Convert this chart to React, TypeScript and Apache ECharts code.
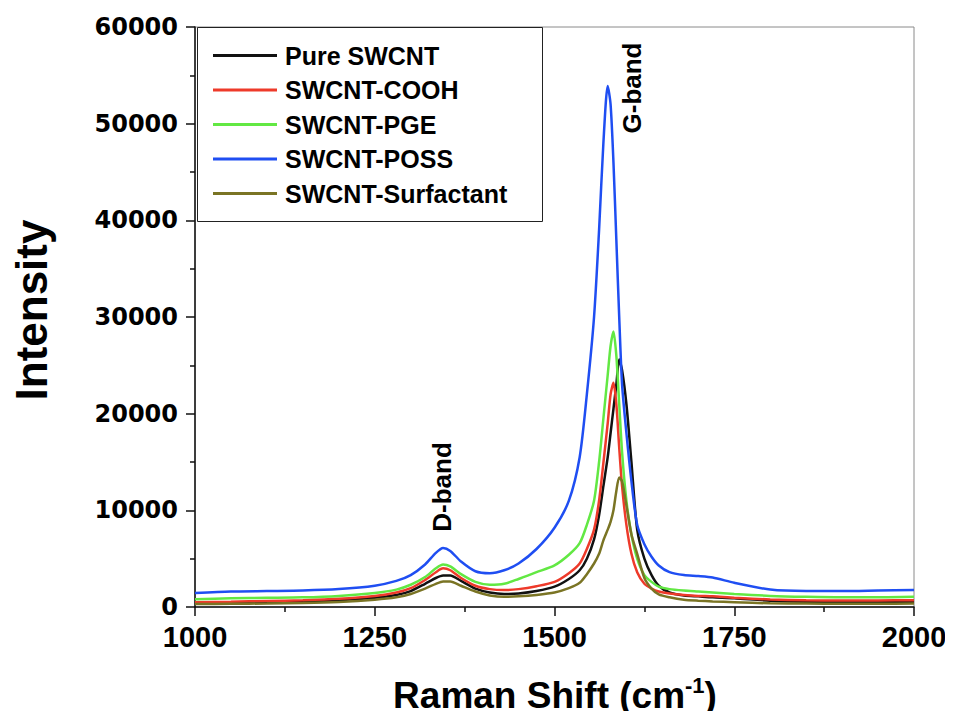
import React, { useEffect, useRef } from "react";
import * as echarts from "echarts";

const wavenumbers = [
  1000, 1050, 1100, 1150, 1200, 1250, 1280, 1300, 1320, 1335, 1345, 1355, 1370, 1390, 1410, 1430,
  1450, 1475, 1500, 1520, 1535, 1545, 1555, 1562, 1568, 1574, 1578, 1582, 1586, 1590, 1594, 1600,
  1607, 1615, 1625, 1635, 1645, 1660, 1680, 1700, 1720, 1750, 1800, 1850, 1900, 1950, 2000,
];

const pureSWCNT = [
  400, 430, 480, 550, 700, 950, 1250, 1650, 2400, 3000, 3250, 3250, 2700, 1900, 1500, 1350,
  1400, 1650, 2100, 2900, 3800, 5000, 7000, 9500, 12500, 15500, 18000, 20500, 23000, 25600, 24500, 21000,
  15000, 8000, 5000, 3300, 2200, 1500, 1200, 1100, 1000, 900, 650, 550, 500, 500, 520,
];

const swcntCOOH = [
  500, 550, 620, 700, 850, 1150, 1500, 1950, 2800, 3600, 4000, 3800, 3000, 2200, 1850, 1750,
  1850, 2150, 2600, 3500, 4500, 6000, 8000, 11000, 14900, 19000, 22000, 23200, 21000, 16500, 12500, 8500,
  5500, 3600, 2400, 1900, 1600, 1400, 1250, 1150, 1100, 950, 780, 700, 680, 680, 700,
];

const swcntPGE = [
  800, 900, 950, 1000, 1150, 1450, 1800, 2300, 3100, 4000, 4400, 4200, 3400, 2600, 2300, 2400,
  2900, 3600, 4300, 5400, 6600, 8500, 11000, 15000, 19500, 24000, 27000, 28500, 26000, 21000, 16000, 11000,
  7500, 5000, 3300, 2600, 2100, 1850, 1700, 1600, 1500, 1350, 1150, 1050, 1000, 1000, 1050,
];

const swcntPOSS = [
  1450, 1600, 1650, 1700, 1850, 2200, 2700, 3300, 4400, 5600, 6100, 5800, 4700, 3700, 3500, 3800,
  4500, 6000, 8200, 11000, 15500, 22000, 30000, 39000, 48000, 53900, 52000, 46000, 38000, 30000, 23000, 18000,
  13000, 8500, 6500, 5200, 4300, 3600, 3300, 3200, 3050, 2500, 1800, 1650, 1650, 1700, 1750,
];

const swcntSurfactant = [
  300, 330, 360, 410, 520, 750, 1000, 1350, 1900, 2400, 2650, 2650, 2200, 1600, 1200, 1050,
  1100, 1250, 1500, 1950, 2500, 3400, 4500, 5500, 6900, 8000, 8800, 10000, 12000, 13400, 13000, 10500,
  7500, 5500, 3000, 1900, 1300, 1000, 750, 650, 580, 500, 380, 350, 330, 330, 350,
];

const seriesNames = ["Pure SWCNT", "SWCNT-COOH", "SWCNT-PGE", "SWCNT-POSS", "SWCNT-Surfactant"];
const seriesColors = ["#111111", "#ee3a2a", "#62e843", "#1f4ef2", "#7a7424"];
const seriesValues = [pureSWCNT, swcntCOOH, swcntPGE, swcntPOSS, swcntSurfactant];

const FONT = "'Liberation Sans', Arial, Helvetica, sans-serif";

export default function App() {
  const ref = useRef<HTMLDivElement>(null);

  useEffect(() => {
    if (!ref.current) return;
    const chart = echarts.init(ref.current, undefined, { renderer: "svg" });

    const series = seriesNames.map((name, i) => ({
      name,
      type: "line",
      data: wavenumbers.map((w, j) => [w, seriesValues[i][j]]),
      showSymbol: false,
      symbol: "none",
      smooth: 0.25,
      lineStyle: { color: seriesColors[i], width: 2.5 },
      itemStyle: { color: seriesColors[i] },
    }));

    chart.setOption({
      animation: false,
      backgroundColor: "#ffffff",
      grid: {
        left: 195,
        right: 39,
        top: 27,
        bottom: 112,
        show: true,
        borderColor: "#8a8a8a",
        borderWidth: 1,
      },
      xAxis: {
        type: "value",
        min: 1000,
        max: 2000,
        interval: 250,
        axisLine: { show: true, lineStyle: { color: "#111", width: 1.5 } },
        axisTick: { show: true, inside: false, length: 9, lineStyle: { color: "#111", width: 1.5 } },
        minorTick: { show: true, splitNumber: 2, length: 5, lineStyle: { color: "#111", width: 1.5 } },
        splitLine: { show: false },
        axisLabel: {
          margin: 15,
          color: "#000",
          fontFamily: FONT,
          fontWeight: "bold",
          fontSize: 29,
          formatter: (v: number) => String(v),
        },
      },
      yAxis: {
        type: "value",
        min: 0,
        max: 60000,
        interval: 10000,
        axisLine: { show: true, lineStyle: { color: "#111", width: 1.5 } },
        axisTick: { show: true, inside: false, length: 9, lineStyle: { color: "#111", width: 1.5 } },
        minorTick: { show: true, splitNumber: 2, length: 5, lineStyle: { color: "#111", width: 1.5 } },
        splitLine: { show: false },
        axisLabel: {
          margin: 17,
          color: "#000",
          fontFamily: "'DejaVu Sans', sans-serif",
          fontWeight: "bold",
          fontSize: 24,
          lineHeight: 22,
          formatter: (v: number) => String(v),
        },
      },
      legend: {
        show: true,
        orient: "vertical",
        left: 197,
        top: 28,
        padding: [15, 16, 15, 16],
        itemGap: 9.5,
        itemWidth: 64,
        itemHeight: 3,
        icon: "rect",
        data: seriesNames,
        textStyle: {
          color: "#000",
          fontFamily: FONT,
          fontWeight: "bold",
          fontSize: 25,
          lineHeight: 25,
          padding: [0, 0, 0, 3],
        },
      },
      graphic: [
        {
          type: "rect",
          shape: { x: 197.5, y: 27.5, width: 345, height: 194 },
          style: { fill: "none", stroke: "#222", lineWidth: 1 },
          z: 100,
        },
        {
          type: "text",
          x: 31,
          y: 310,
          rotation: Math.PI / 2,
          style: {
            text: "Intensity",
            font: `bold 44px ${FONT}`,
            fill: "#000",
            align: "center",
            verticalAlign: "middle",
          },
        },
        {
          type: "text",
          x: 555,
          y: 694,
          style: {
            text: "{a|Raman Shift (cm}{b|-1}{a|)}",
            fill: "#000",
            align: "center",
            verticalAlign: "middle",
            rich: {
              a: { font: `bold 37px ${FONT}`, fill: "#000", verticalAlign: "bottom", lineHeight: 40 },
              b: { font: `bold 22px ${FONT}`, fill: "#000", verticalAlign: "top", lineHeight: 40 },
            },
          },
        },
        {
          type: "text",
          x: 632,
          y: 88,
          rotation: Math.PI / 2,
          style: {
            text: "G-band",
            font: `bold 26px ${FONT}`,
            fill: "#000",
            align: "center",
            verticalAlign: "middle",
          },
        },
        {
          type: "text",
          x: 442,
          y: 487,
          rotation: Math.PI / 2,
          style: {
            text: "D-band",
            font: `bold 26px ${FONT}`,
            fill: "#000",
            align: "center",
            verticalAlign: "middle",
          },
        },
      ],
      series,
    });

    return () => {
      chart.dispose();
    };
  }, []);

  return <div ref={ref} style={{ width: 953, height: 719, margin: -8 }} />;
}
